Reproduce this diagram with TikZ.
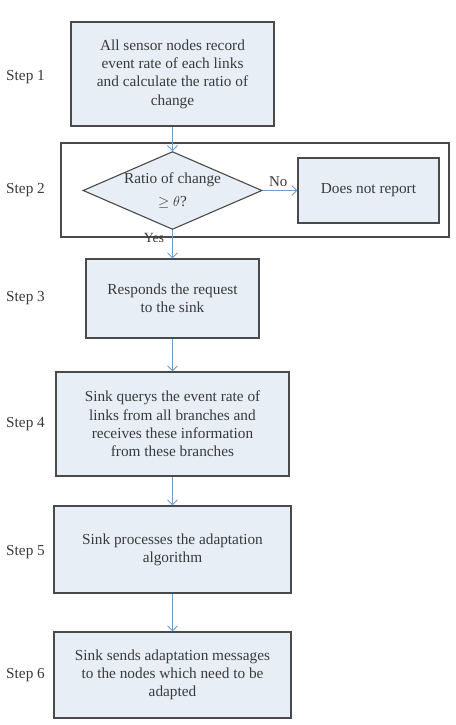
\documentclass[tikz,border=0pt]{standalone}
\usepackage{fontspec}
\setmainfont{Liberation Serif}
\usepackage{amssymb}
\usetikzlibrary{arrows.meta,shapes.geometric}
\definecolor{boxfill}{HTML}{E8EEF6}
\definecolor{boxline}{HTML}{4A4A4A}
\definecolor{txtgray}{HTML}{3A3A3A}
\definecolor{arrblue}{HTML}{6E9BD3}
\tikzset{
  stepbox/.style={draw=boxline,line width=1.1pt,fill=boxfill,align=center,
    text=txtgray,font=\fontsize{15.3}{18.3}\selectfont,inner sep=2pt},
  decision/.style={diamond,draw=boxline,line width=1.1pt,fill=boxfill,align=center,
    text=txtgray,font=\fontsize{15.3}{23}\selectfont,inner sep=0pt,aspect=2.3,
    minimum width=179pt,minimum height=77pt},
  steplabel/.style={text=txtgray,font=\fontsize{15.3}{17}\selectfont,anchor=west,inner sep=0pt},
  flow/.style={draw=arrblue,line width=0.9pt,-{Straight Barb[length=5pt,width=10pt]}}
}
\begin{document}
\begin{tikzpicture}[x=1pt,y=-1pt]
              \useasboundingbox (0,0) rectangle (455,725);
              % step labels
              \node[steplabel](s1)at(6,77){Step 1};
              \node[steplabel](s2)at(6,190){Step 2};
              \node[steplabel](s3)at(6,298){Step 3};
              \node[steplabel](s4)at(6,424){Step 4};
              \node[steplabel](s5)at(6,552){Step 5};
              \node[steplabel](s6)at(6,675){Step 6};
              % step 2 frame
              \node[draw=boxline,line width=1.1pt,minimum width=388pt,minimum height=94pt,inner sep=0pt](frame)at(255,190){};
              % boxes
              \node[stepbox,minimum width=203pt,minimum height=104pt](record)at(172.5,74){All sensor nodes record\\event rate of each links\\and calculate the ratio of\\change};
              \node[decision](ratio)at(172.5,190.5){Ratio of change\\$\geq\theta$?};
              \node[stepbox,minimum width=141pt,minimum height=65pt](noreport)at(368.5,190.5){Does not report};
              \node[stepbox,minimum width=173pt,minimum height=79pt](respond)at(172.5,298.5){Responds the request\\to the sink};
              \node[stepbox,minimum width=233pt,minimum height=104pt](query)at(172.5,424){Sink querys the event rate of\\links from all branches and\\receives these information\\from these branches};
              \node[stepbox,minimum width=237pt,minimum height=87pt](process)at(172.5,549.5){Sink processes the adaptation\\algorithm};
              \node[stepbox,minimum width=237pt,minimum height=86pt](send)at(172.5,675){Sink sends adaptation messages\\to the nodes which need to be\\adapted};
              % connectors
              \draw[flow](record)--(ratio);
              \draw[flow](ratio)--node[above,pos=0.45,text=txtgray,font=\fontsize{15}{17}\selectfont]{No}(noreport);
              \draw[flow](ratio)--(respond);
              \draw[flow](respond)--(query);
              \draw[flow](query)--(process);
              \draw[flow](process)--(send);
              \node[text=txtgray,font=\fontsize{14}{16}\selectfont,inner sep=0pt](yes)at(154,238){Yes};
            \end{tikzpicture}
\end{document}
